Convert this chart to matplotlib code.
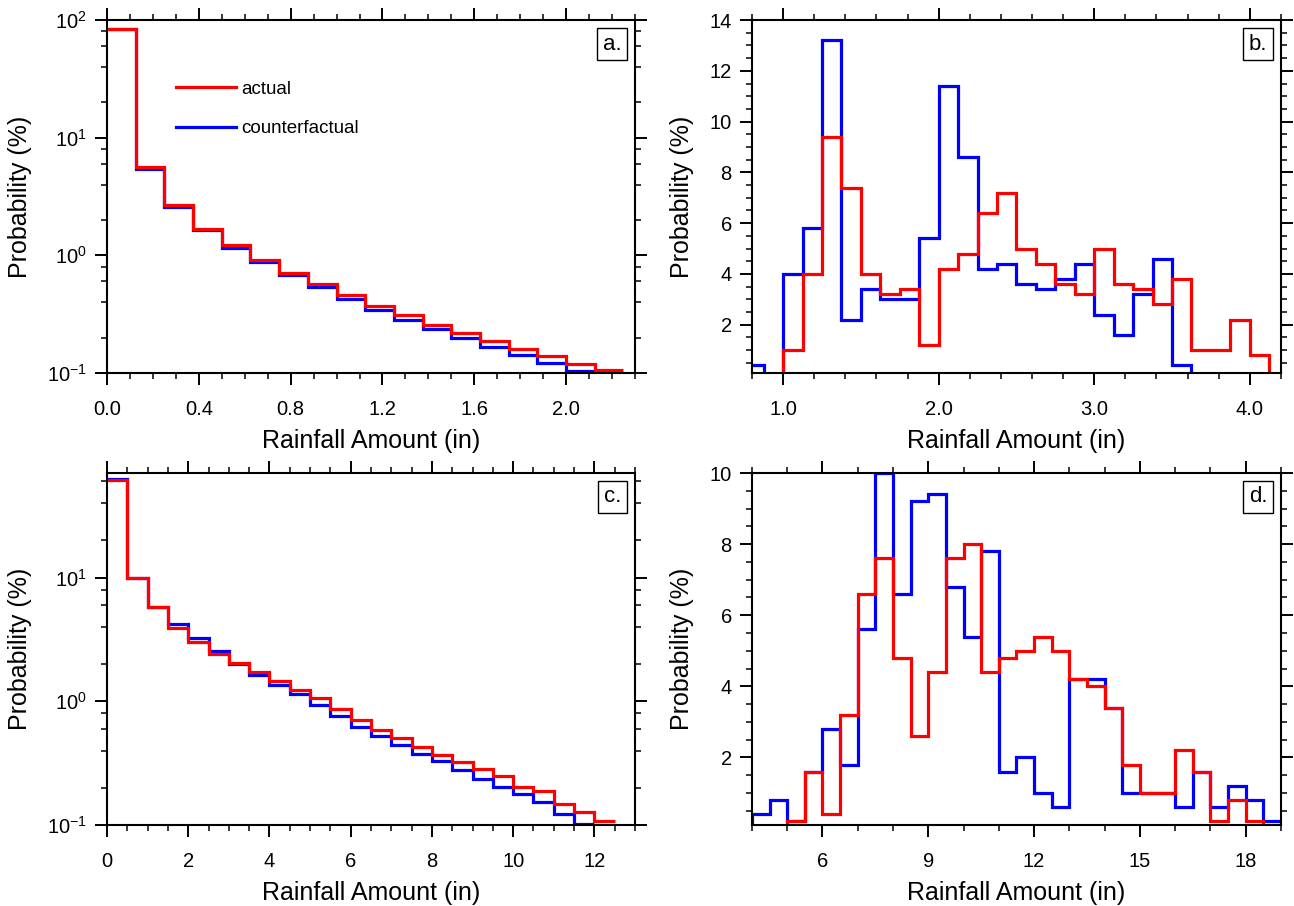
#-----Rainfall probability panels (actual vs counterfactual)
import numpy as np
import matplotlib
matplotlib.use('Agg')
import matplotlib.pyplot as plt
from matplotlib.ticker import MultipleLocator, LogLocator, NullFormatter, FormatStrFormatter
from matplotlib.lines import Line2D

plt.rcParams['font.family'] = ['Liberation Sans', 'DejaVu Sans']
plt.rcParams['mathtext.fontset'] = 'custom'
plt.rcParams['mathtext.rm'] = 'Liberation Sans'
plt.rcParams['mathtext.default'] = 'regular'
plt.rcParams['axes.unicode_minus'] = False

#-----Data (probability in %)
# panel a: bins of 0.125 in starting at 0
a_start, a_width = 0.0, 0.125
a_actual = [83.3, 5.66, 2.67, 1.69, 1.22, 0.91, 0.714, 0.568, 0.458, 0.374, 0.310,
            0.258, 0.219, 0.1875, 0.161, 0.139, 0.120, 0.1054]
a_counter = [84.5, 5.43, 2.58, 1.64, 1.16, 0.875, 0.678, 0.539, 0.426, 0.346, 0.284,
             0.235, 0.199, 0.166, 0.142, 0.1225, 0.104]

# panel b: bins of 0.125 in
b_width = 0.125
b_actual_start = 1.0
b_actual = [1.0, 4.0, 9.4, 7.4, 4.0, 3.2, 3.4, 1.2, 4.2, 4.8, 6.4, 7.2, 5.0, 4.4, 3.6,
            3.2, 5.0, 3.6, 3.4, 2.8, 3.8, 1.0, 1.0, 2.2, 0.8]
b_counter_start = 0.75
b_counter = [0.4, 0.0, 4.0, 5.8, 13.2, 2.2, 3.4, 3.0, 3.0, 5.4, 11.4, 8.6, 4.2, 4.4, 3.6,
             3.4, 3.8, 4.4, 2.4, 1.6, 3.2, 4.6, 0.4]

# panel c: bins of 0.5 in starting at 0
c_start, c_width = 0.0, 0.5
c_actual = [62.0, 9.9, 5.77, 3.9, 2.99, 2.42, 2.04, 1.73, 1.47, 1.24, 1.06, 0.867, 0.711,
            0.583, 0.503, 0.429, 0.365, 0.324, 0.286, 0.248, 0.202, 0.187, 0.149, 0.127, 0.108]
c_counter = [62.5, 10.0, 5.8, 4.23, 3.24, 2.53, 2.0, 1.63, 1.36, 1.146, 0.94, 0.757, 0.617,
             0.522, 0.445, 0.376, 0.328, 0.276, 0.237, 0.202, 0.179, 0.153, 0.122, 0.101]

# panel d: bins of 0.5 in starting at 4
d_start, d_width = 4.0, 0.5
d_actual = [0.0, 0.0, 0.2, 1.6, 0.4, 3.2, 6.6, 7.6, 4.8, 2.6, 4.4, 7.6, 8.0, 4.4, 4.8,
            5.0, 5.4, 5.0, 4.2, 4.0, 3.4, 1.8, 1.0, 1.0, 2.2, 1.6, 0.2, 0.8, 0.2]
d_counter = [0.4, 0.8, 0.2, 1.6, 2.8, 1.8, 5.6, 10.0, 6.6, 9.2, 9.4, 6.8, 5.4, 7.8, 1.6,
             2.0, 1.0, 0.6, 4.2, 4.2, 3.4, 1.0, 1.0, 1.0, 0.6, 1.6, 0.6, 1.2, 0.8, 0.2]

panel_labels = ['a.', 'b.', 'c.', 'd.']
series_names = ['actual', 'counterfactual']


def bin_edges(start, width, values):
    return start + width * np.arange(len(values) + 1)


def style_axes(ax):
    ax.tick_params(which='both', direction='out', top=True, right=True, labelsize=14.5)
    ax.tick_params(which='major', length=8.5, width=1.4)
    ax.tick_params(which='minor', length=4.5, width=1.1)
    ax.tick_params(axis='x', which='major', pad=11)
    ax.tick_params(axis='y', which='major', pad=6)
    for s in ax.spines.values():
        s.set_linewidth(1.5)
    ax.set_xlabel('Rainfall Amount (in)', fontsize=18, labelpad=7)
    ax.set_ylabel('Probability (%)', fontsize=18, labelpad=11)


def add_tag(ax, tag):
    ax.text(0.957, 0.932, tag, transform=ax.transAxes, ha='center', va='center',
            fontsize=16, bbox=dict(boxstyle='square,pad=0.25', fc='white', ec='black', lw=1))


fig = plt.figure(figsize=(12.94, 9.06), dpi=100)
ax_a = fig.add_axes([0.0827, 0.5883, 0.408, 0.3896])
ax_b = fig.add_axes([0.5811, 0.5883, 0.4088, 0.3896])
ax_c = fig.add_axes([0.0827, 0.0894, 0.408, 0.3885])
ax_d = fig.add_axes([0.5811, 0.0894, 0.4088, 0.3885])

lw = 2.3

#-----Panel a (log)
ax_a.stairs(a_counter, bin_edges(a_start, a_width, a_counter), baseline=None, color='blue', lw=lw)
ax_a.stairs(a_actual, bin_edges(a_start, a_width, a_actual), baseline=None, color='red', lw=lw)
ax_a.set_yscale('log')
ax_a.set_xlim(0, 2.3)
ax_a.set_ylim(0.1, 100)
ax_a.xaxis.set_major_locator(MultipleLocator(0.4))
ax_a.xaxis.set_minor_locator(MultipleLocator(0.1))
ax_a.xaxis.set_major_formatter(FormatStrFormatter('%.1f'))

#-----Panel b (linear)
ax_b.stairs(b_counter, bin_edges(b_counter_start, b_width, b_counter), color='blue', lw=lw)
ax_b.stairs(b_actual, bin_edges(b_actual_start, b_width, b_actual), color='red', lw=lw)
ax_b.set_xlim(0.8, 4.2)
ax_b.set_ylim(0.1, 14)
ax_b.xaxis.set_major_locator(MultipleLocator(1.0))
ax_b.xaxis.set_minor_locator(MultipleLocator(0.2))
ax_b.xaxis.set_major_formatter(FormatStrFormatter('%.1f'))
ax_b.yaxis.set_major_locator(MultipleLocator(2))
ax_b.yaxis.set_minor_locator(MultipleLocator(0.5))

#-----Panel c (log)
ax_c.stairs(c_counter, bin_edges(c_start, c_width, c_counter), baseline=None, color='blue', lw=lw)
ax_c.stairs(c_actual, bin_edges(c_start, c_width, c_actual), baseline=None, color='red', lw=lw)
ax_c.set_yscale('log')
ax_c.set_xlim(0, 13)
ax_c.set_ylim(0.1, 70)
ax_c.xaxis.set_major_locator(MultipleLocator(2))
ax_c.xaxis.set_minor_locator(MultipleLocator(0.5))

#-----Panel d (linear)
ax_d.stairs(d_counter, bin_edges(d_start, d_width, d_counter), color='blue', lw=lw)
ax_d.stairs(d_actual, bin_edges(d_start, d_width, d_actual), color='red', lw=lw)
ax_d.set_xlim(4, 19)
ax_d.set_ylim(0.1, 10)
ax_d.xaxis.set_major_locator(MultipleLocator(3))
ax_d.xaxis.set_minor_locator(MultipleLocator(1))
ax_d.yaxis.set_major_locator(MultipleLocator(2))
ax_d.yaxis.set_minor_locator(MultipleLocator(0.5))

for ax in (ax_a, ax_c):
    ax.yaxis.set_major_locator(LogLocator(base=10, numticks=10))
    ax.yaxis.set_minor_locator(LogLocator(base=10, subs=(2, 4, 6, 8), numticks=10))
    ax.yaxis.set_minor_formatter(NullFormatter())

for ax, tag in zip((ax_a, ax_b, ax_c, ax_d), panel_labels):
    style_axes(ax)
    add_tag(ax, tag)

# legend in panel a
handles = [Line2D([], [], color='red', lw=lw), Line2D([], [], color='blue', lw=lw)]
ax_a.legend(handles, series_names, loc='upper left', bbox_to_anchor=(0.131, 0.828),
            frameon=False, fontsize=13.5, handlelength=3.2, handletextpad=0.25,
            labelspacing=1.2, borderpad=0, borderaxespad=0)

fig.savefig('out.png', dpi=100)
